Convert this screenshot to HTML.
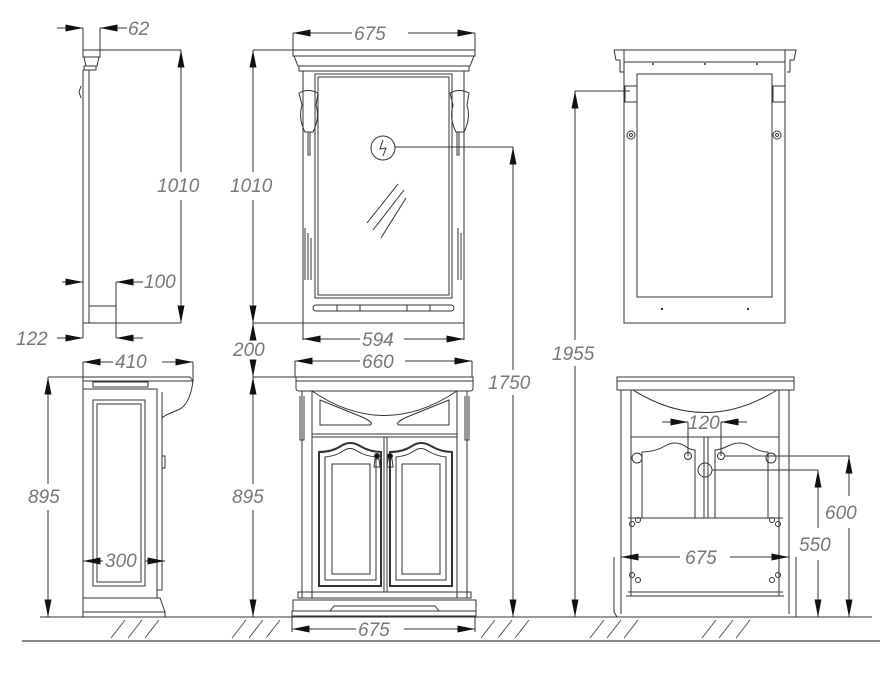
<!DOCTYPE html>
<html><head><meta charset="utf-8"><style>
html,body{margin:0;padding:0;background:#fff}
svg{display:block}
text{font-family:"Liberation Sans",sans-serif;font-style:italic;font-size:19px;fill:#777}
</style></head><body>
<svg width="888" height="673" viewBox="0 0 888 673" xmlns="http://www.w3.org/2000/svg">
<defs>
<marker id="a" viewBox="0 0 10 4" refX="10" refY="2" markerWidth="18" markerHeight="7" markerUnits="userSpaceOnUse" orient="auto-start-reverse"><path d="M0,0L10,2L0,4z" fill="#111"/></marker>
</defs>
<g stroke="#333" stroke-width="1" fill="none">
<line x1="40" y1="617" x2="872" y2="617"/>
<line x1="22" y1="641" x2="880" y2="641" stroke="#888" stroke-width="2"/>
<g stroke="#555">
<path d="M125,620L111,638M142,620L128,638M159,620L145,638"/>
<path d="M246,620L232,638M263,620L249,638M280,620L266,638"/>
<path d="M495,620L481,638M512,620L498,638M529,620L515,638"/>
<path d="M604,620L590,638M621,620L607,638M638,620L624,638"/>
<path d="M716,620L702,638M733,620L719,638M750,620L736,638"/>
</g>

<!-- LEFT SIDE MIRROR -->
<rect x="83" y="50" width="17" height="7"/>
<path d="M84,57L99,57L97,66L86,66z"/>
<rect x="84" y="66" width="12" height="4"/>
<line x1="83" y1="70" x2="83" y2="323"/><line x1="89" y1="70" x2="89" y2="306"/>
<path d="M81,86L79,92L81,98" />
<rect x="89" y="306" width="27" height="17"/>
<line x1="83" y1="323" x2="181" y2="323"/>
<line x1="100" y1="50" x2="181" y2="50"/>
<line x1="181" y1="50" x2="181" y2="172" marker-start="url(#a)"/>
<line x1="181" y1="200" x2="181" y2="323" marker-end="url(#a)"/>
<line x1="83" y1="28" x2="83" y2="50"/><line x1="100" y1="28" x2="100" y2="50"/>
<line x1="57" y1="28" x2="83" y2="28" marker-end="url(#a)"/>
<line x1="127" y1="28" x2="100" y2="28" marker-end="url(#a)"/>
<line x1="62" y1="282" x2="83" y2="282" marker-end="url(#a)"/>
<line x1="116" y1="282" x2="116" y2="338"/>
<line x1="143" y1="282" x2="116" y2="282" marker-end="url(#a)"/>
<line x1="83" y1="323" x2="83" y2="338"/>
<line x1="57" y1="338" x2="83" y2="338" marker-end="url(#a)"/>
<line x1="143" y1="338" x2="116" y2="338" marker-end="url(#a)"/>

<!-- MIDDLE MIRROR -->
<rect x="293" y="50" width="182" height="6"/>
<path d="M294,56L474,56L470,66L298,66z"/>
<rect x="299" y="66" width="170" height="5"/>
<rect x="303" y="71" width="161" height="252"/>
<rect x="315" y="74" width="137" height="224"/>
<rect x="318" y="77" width="131" height="218"/>
<rect x="313" y="305" width="141" height="6" rx="3"/>
<path d="M337,305V311M360,305V311M407,305V311M430,305V311"/>
<path d="M299,93Q308,88 318,93L316,105Q320,118 313,132L305,132Q298,118 302,105z"/>
<path d="M450,93Q459,88 469,93L467,105Q471,118 464,132L456,132Q449,118 453,105z"/>
<path d="M308,132V155h2V132M457,132V155h2V132"/>
<path d="M305,228V280M308,233V280M311,238V280M458,228V280M461,233V280M464,238V280"/>
<path d="M367,223L398,184M373,230L404,190M381,238L406,198"/>
<circle cx="383" cy="148" r="12"/>
<path d="M383,140L380,149L386,148L383,156"/>
<line x1="395" y1="147" x2="513" y2="147"/>
<line x1="513" y1="147" x2="513" y2="370" marker-start="url(#a)"/>
<line x1="513" y1="395" x2="513" y2="617" marker-end="url(#a)"/>
<line x1="293" y1="33" x2="293" y2="50"/><line x1="475" y1="33" x2="475" y2="50"/>
<line x1="293" y1="33" x2="352" y2="33" marker-start="url(#a)"/>
<line x1="408" y1="33" x2="475" y2="33" marker-end="url(#a)"/>
<line x1="253" y1="50" x2="293" y2="50"/>
<line x1="253" y1="50" x2="253" y2="172" marker-start="url(#a)"/>
<line x1="253" y1="200" x2="253" y2="323" marker-end="url(#a)"/>
<line x1="253" y1="323" x2="303" y2="323"/>
<line x1="303" y1="323" x2="303" y2="340"/><line x1="464" y1="323" x2="464" y2="340"/>
<line x1="303" y1="339" x2="360" y2="339" marker-start="url(#a)"/>
<line x1="404" y1="339" x2="464" y2="339" marker-end="url(#a)"/>
<line x1="253" y1="335" x2="253" y2="323" marker-end="url(#a)"/>
<line x1="253" y1="362" x2="253" y2="377" marker-end="url(#a)"/>

<!-- MIDDLE CABINET -->
<line x1="253" y1="377" x2="296" y2="377"/>
<rect x="296" y="377" width="177" height="4"/>
<path d="M296,381H473V388Q473,391 470,391H299Q296,391 296,388z"/>
<rect x="302" y="391" width="165" height="207"/>
<rect x="312" y="391" width="145" height="207"/>
<path d="M312,391Q384,440 457,391"/>
<path d="M320,400L362,417Q375,423 370,425H320z"/>
<path d="M449,400L407,417Q394,423 399,425H449z"/>
<line x1="312" y1="434" x2="457" y2="434"/>
<line x1="312" y1="437" x2="457" y2="437"/>
<line x1="384" y1="437" x2="384" y2="592"/>
<line x1="387" y1="437" x2="387" y2="592"/>
<path d="M319,452Q332,452 341,446Q350,440 360,446Q370,452 381,452V586H319z" stroke-width="2"/>
<path d="M325,457Q336,456 343,451Q350,446 357,451Q365,456 376,457V580H325z"/>
<path d="M332,464H370V574H332z"/>
<path d="M390,452Q403,452 412,446Q421,440 431,446Q441,452 452,452V586H390z" stroke-width="2"/>
<path d="M396,457Q407,456 414,451Q421,446 428,451Q436,456 446,457V580H396z"/>
<path d="M402,464H440V574H402z"/>
<circle cx="377" cy="456" r="2.5" fill="#111"/><circle cx="390" cy="456" r="2.5" fill="#111"/>
<path d="M375,459L379,459L380,467L374,467zM388,459L392,459L393,467L387,467z"/>
<path d="M300,396V440h4V396M465,396V440h4V396M302,440V592M467,440V592"/>
<rect x="298" y="592" width="173" height="6"/>
<path d="M293,600L476,600L476,611L293,611z"/>
<path d="M292,611H476V616H292z"/>
<path d="M330,611L334,606H435L439,611"/>
<line x1="295" y1="361" x2="360" y2="361" marker-start="url(#a)"/>
<line x1="405" y1="361" x2="472" y2="361" marker-end="url(#a)"/>
<line x1="295" y1="361" x2="295" y2="377"/><line x1="472" y1="361" x2="472" y2="377"/>
<line x1="253" y1="377" x2="253" y2="484" marker-start="url(#a)"/>
<line x1="253" y1="510" x2="253" y2="617" marker-end="url(#a)"/>
<line x1="292" y1="616" x2="292" y2="632"/><line x1="475" y1="616" x2="475" y2="632"/>
<line x1="292" y1="629" x2="356" y2="629" marker-start="url(#a)"/>
<line x1="404" y1="629" x2="475" y2="629" marker-end="url(#a)"/>

<!-- LEFT SIDE CABINET -->
<line x1="48" y1="377" x2="83" y2="377"/>
<path d="M83,377H190L193,381H83z"/>
<rect x="93" y="382" width="55" height="5"/>
<path d="M83,381V617M83,389H157V598"/>
<path d="M193,381Q190,405 178,410Q165,415 162,418V590H157"/>
<path d="M162,392V418"/>
<rect x="93" y="400" width="52" height="186"/><rect x="97" y="404" width="44" height="178"/>
<rect x="162" y="456" width="3" height="12"/>
<path d="M83,598H160L165,612H83zM83,612H165V617H83z"/>
<line x1="83" y1="362" x2="113" y2="362" marker-start="url(#a)"/>
<line x1="162" y1="362" x2="193" y2="362" marker-end="url(#a)"/>
<line x1="193" y1="362" x2="193" y2="381"/><line x1="83" y1="362" x2="83" y2="377"/>
<line x1="48" y1="377" x2="48" y2="484" marker-start="url(#a)"/>
<line x1="48" y1="510" x2="48" y2="617" marker-end="url(#a)"/>
<line x1="48" y1="617" x2="83" y2="617"/>
<line x1="83" y1="561" x2="103" y2="561" marker-start="url(#a)"/>
<line x1="145" y1="561" x2="165" y2="561" marker-end="url(#a)"/>

<!-- RIGHT MIRROR BACK -->
<path d="M614,50H796L794,60L790,60V72H787M614,50L616,60L620,60V72H624"/>
<line x1="624" y1="62" x2="785" y2="62"/>
<rect x="624" y="50" width="161" height="273"/>
<rect x="637" y="74" width="135" height="223"/>
<rect x="625" y="86" width="12" height="16"/><rect x="773" y="86" width="12" height="16"/>
<circle cx="631" cy="135" r="4"/><circle cx="631" cy="135" r="1.5"/>
<circle cx="777" cy="135" r="4"/><circle cx="777" cy="135" r="1.5"/>
<g fill="#333" stroke="none"><circle cx="653" cy="64" r="1"/><circle cx="705" cy="64" r="1"/><circle cx="757" cy="64" r="1"/><circle cx="662" cy="309" r="1.2"/><circle cx="748" cy="309" r="1.2"/></g>
<line x1="575" y1="91" x2="630" y2="91"/>
<line x1="575" y1="91" x2="575" y2="340" marker-start="url(#a)"/>
<line x1="575" y1="366" x2="575" y2="617" marker-end="url(#a)"/>

<!-- RIGHT CABINET BACK -->
<path d="M617,377H794V390H617z"/>
<line x1="617" y1="381" x2="794" y2="381"/>
<path d="M621,390V614M631,390V596M779,390V596M789,390V614"/>
<path d="M633,390Q705,435 777,390"/>
<line x1="631" y1="437" x2="779" y2="437"/>
<path d="M631,437V518M779,437V518"/>
<path d="M642,518V452Q655,452 665,446Q675,440 685,446Q690,450 695,450V518"/>
<path d="M715,518V450Q720,450 728,446Q740,440 750,446Q760,452 768,452V518"/>
<path d="M704,437V518M708,437V518"/>
<line x1="628" y1="518" x2="783" y2="518"/>
<line x1="628" y1="592" x2="783" y2="592"/>
<circle cx="637" cy="458" r="5"/><circle cx="771" cy="458" r="5"/>
<circle cx="688" cy="456" r="3.5"/><circle cx="721" cy="456" r="3.5"/>
<circle cx="705" cy="470" r="7"/>
<circle cx="632" cy="524" r="2.5"/><circle cx="638" cy="520" r="2.5"/><circle cx="772" cy="520" r="2.5"/><circle cx="778" cy="524" r="2.5"/>
<circle cx="632" cy="575" r="2.5"/><circle cx="638" cy="580" r="2.5"/><circle cx="772" cy="580" r="2.5"/><circle cx="778" cy="575" r="2.5"/>
<path d="M614,557V612L617,617H796V557M626,596H784"/>
<path d="M688,456V422M721,456V422"/>
<line x1="662" y1="422" x2="688" y2="422" marker-end="url(#a)"/>
<line x1="747" y1="422" x2="721" y2="422" marker-end="url(#a)"/>
<line x1="725" y1="456" x2="850" y2="456"/>
<line x1="712" y1="470" x2="818" y2="470"/>
<line x1="849" y1="456" x2="849" y2="496" marker-start="url(#a)"/>
<line x1="849" y1="528" x2="849" y2="617" marker-end="url(#a)"/>
<line x1="818" y1="470" x2="818" y2="528" marker-start="url(#a)"/>
<line x1="818" y1="560" x2="818" y2="617" marker-end="url(#a)"/>
<line x1="621" y1="557" x2="680" y2="557" marker-start="url(#a)"/>
<line x1="730" y1="557" x2="789" y2="557" marker-end="url(#a)"/>
</g>
<text x="128" y="35">62</text>
<text x="157" y="192">1010</text>
<text x="144" y="288">100</text>
<text x="16" y="345">122</text>
<text x="354" y="40">675</text>
<text x="230" y="192">1010</text>
<text x="362" y="346">594</text>
<text x="233" y="356">200</text>
<text x="362" y="368">660</text>
<text x="488" y="389">1750</text>
<text x="232" y="503">895</text>
<text x="358" y="636">675</text>
<text x="115" y="368">410</text>
<text x="28" y="503">895</text>
<text x="105" y="567">300</text>
<text x="552" y="360">1955</text>
<text x="688" y="429">120</text>
<text x="825" y="519">600</text>
<text x="799" y="551">550</text>
<text x="685" y="564">675</text>
</svg>
</body></html>
